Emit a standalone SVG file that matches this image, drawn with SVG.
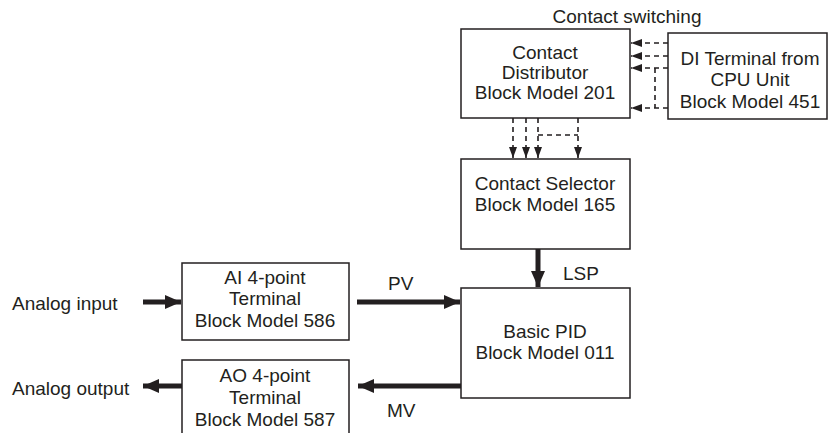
<svg xmlns="http://www.w3.org/2000/svg" width="829" height="433" viewBox="0 0 829 433">
<style>
.box{fill:#fff;stroke:#231f20;stroke-width:1.5}
text{font-family:"Liberation Sans",Arial,sans-serif;font-size:19px;fill:#231f20}
.c{text-anchor:middle}
.dash{fill:none;stroke:#231f20;stroke-width:1.6;stroke-dasharray:5 4}
.thick{fill:none;stroke:#231f20;stroke-width:5}
</style>
<defs>
<marker id="sa" markerUnits="userSpaceOnUse" markerWidth="12" markerHeight="10" refX="11" refY="4" orient="auto">
<path d="M0,0 L11,4 L0,8 Z" fill="#231f20"/>
</marker>
<marker id="ta" markerUnits="userSpaceOnUse" markerWidth="18" markerHeight="16" refX="16" refY="7" orient="auto">
<path d="M0,0 L16,7 L0,14 Z" fill="#231f20"/>
</marker>
</defs>
<text x="627" y="23" class="c">Contact switching</text>
<g id="distributor">
<rect class="box" x="461" y="29" width="169" height="89"/>
<text x="545" y="59" class="c">Contact</text>
<text x="545" y="79" class="c">Distributor</text>
<text x="545" y="99" class="c">Block Model 201</text>
</g>
<g id="di">
<rect class="box" x="668" y="33" width="159" height="86"/>
<text x="750" y="65" class="c">DI Terminal from</text>
<text x="750" y="86" class="c">CPU Unit</text>
<text x="750" y="108" class="c">Block Model 451</text>
</g>
<g id="selector">
<rect class="box" x="461" y="159" width="169" height="90"/>
<text x="545" y="190" class="c">Contact Selector</text>
<text x="545" y="211" class="c">Block Model 165</text>
</g>
<g id="pid">
<rect class="box" x="461" y="288" width="169" height="110"/>
<text x="545" y="338" class="c">Basic PID</text>
<text x="545" y="359" class="c">Block Model 011</text>
</g>
<g id="ai">
<rect class="box" x="182" y="263" width="167" height="77"/>
<text x="265" y="284" class="c">AI 4-point</text>
<text x="265" y="305" class="c">Terminal</text>
<text x="265" y="327" class="c">Block Model 586</text>
</g>
<g id="ao">
<path class="box" d="M182,434 V360 H349 V434"/>
<text x="265" y="382" class="c">AO 4-point</text>
<text x="265" y="404" class="c">Terminal</text>
<text x="265" y="426" class="c">Block Model 587</text>
</g>
<text x="12" y="310">Analog input</text>
<text x="12" y="395">Analog output</text>
<text x="388" y="290">PV</text>
<text x="387" y="417">MV</text>
<text x="563" y="280">LSP</text>
<g id="connectors">
<path class="dash" d="M668,43 H631" marker-end="url(#sa)"/>
<path class="dash" d="M668,56 H631" marker-end="url(#sa)"/>
<path class="dash" d="M668,68 H631" marker-end="url(#sa)"/>
<path class="dash" d="M668,108 H631" marker-end="url(#sa)"/>
<path class="dash" d="M655,68 V108"/>
<path class="dash" d="M513,118 V158" marker-end="url(#sa)"/>
<path class="dash" d="M526,118 V158" marker-end="url(#sa)"/>
<path class="dash" d="M538,118 V158" marker-end="url(#sa)"/>
<path class="dash" d="M578,118 V158" marker-end="url(#sa)"/>
<path class="dash" d="M538,135 H578"/>
<path class="thick" d="M538,249 V287" marker-end="url(#ta)"/>
<path class="thick" d="M143,302 H181" marker-end="url(#ta)"/>
<path class="thick" d="M357,302 H460" marker-end="url(#ta)"/>
<path class="thick" d="M461,386 H358" marker-end="url(#ta)"/>
<path class="thick" d="M182,386 H143" marker-end="url(#ta)"/>
</g>
</svg>
